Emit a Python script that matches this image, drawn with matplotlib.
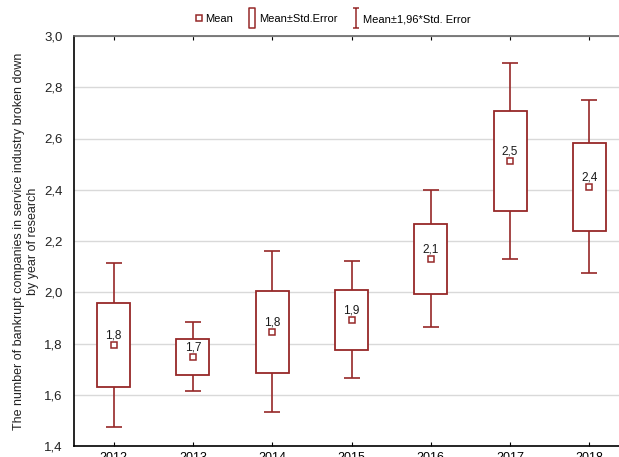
import matplotlib.pyplot as plt
from matplotlib.lines import Line2D
from matplotlib.path import Path

plt.rcParams['font.family'] = ['Liberation Sans', 'DejaVu Sans']

years = ['2012', '2013', '2014', '2015', '2016', '2017', '2018']
means = [1.794, 1.748, 1.846, 1.893, 2.131, 2.512, 2.412]
std_err = [0.164, 0.069, 0.160, 0.117, 0.137, 0.195, 0.172]

red = '#962828'

fig = plt.figure(figsize=(6.19, 4.57), dpi=100)
ax = fig.add_axes([74 / 619, 11 / 457, 555 / 619, 410 / 457])

x = list(range(1, len(years) + 1))
lo = [m - s for m, s in zip(means, std_err)]
ci = [1.96 * s for s in std_err]

ax.errorbar(x, means, yerr=ci, fmt='none', ecolor=red, elinewidth=1.2,
            capsize=5.8, capthick=1.2, zorder=2)
ax.bar(x, [2 * s for s in std_err], bottom=lo, width=0.415, facecolor='white',
       edgecolor=red, linewidth=1.3, zorder=3)
ax.plot(x, means, 's', ms=4.2, mfc='white', mec=red, mew=1.1, zorder=4)
for xi, m in zip(x, means):
    ax.annotate(f'{m:.1f}'.replace('.', ','), (xi, m), xytext=(0, 2.5),
                textcoords='offset points', ha='center', va='bottom',
                fontsize=8.5, color='#1a1a1a', zorder=5)

ax.set_xlim(0.5, 7.5)
ax.set_ylim(1.4, 3.0)
ax.set_xticks(x)
ax.set_xticklabels(years, fontsize=9)
yt = [1.4, 1.6, 1.8, 2.0, 2.2, 2.4, 2.6, 2.8, 3.0]
ax.set_yticks(yt)
ax.set_yticklabels([f'{v:.1f}'.replace('.', ',') for v in yt], fontsize=9.5,
                   color='#222222')
ax.tick_params(axis='x', direction='in', length=3, top=True, pad=4)
ax.tick_params(axis='y', length=0, pad=8)
ax.grid(axis='y', color='#d9d9d9', linewidth=1)
ax.set_axisbelow(True)
for s in ['left', 'bottom']:
    ax.spines[s].set_linewidth(1.2)
ax.spines['top'].set_color('#666666')
ax.spines['top'].set_linewidth(1.2)
ax.spines['right'].set_visible(False)

ax.set_ylabel('The number of bankrupt companies in service industry broken down\nby year of research',
              fontsize=9, labelpad=4, color='#222222')

# legend
box_m = Path([(-0.32, -1), (0.32, -1), (0.32, 1), (-0.32, 1), (-0.32, -1)],
             [Path.MOVETO, Path.LINETO, Path.LINETO, Path.LINETO, Path.CLOSEPOLY])
ibar_m = Path([(-0.32, 1), (0.32, 1), (0, 1), (0, -1), (-0.32, -1), (0.32, -1)],
              [Path.MOVETO, Path.LINETO, Path.MOVETO, Path.LINETO, Path.MOVETO, Path.LINETO])
handles = [
    Line2D([], [], ls='none', marker='s', ms=5, mfc='white', mec=red, mew=1.1),
    Line2D([], [], ls='none', marker=box_m, ms=15, mfc='none', mec=red, mew=1.1),
    Line2D([], [], ls='none', marker=ibar_m, ms=15, mfc='none', mec=red, mew=1.1),
]
fig.legend(handles, ['Mean', 'Mean±Std.Error', 'Mean±1,96*Std. Error'],
           loc='center', bbox_to_anchor=(332 / 619, 1 - 19 / 457), ncol=3,
           frameon=False, fontsize=8, handlelength=1.0, handletextpad=0.1,
           columnspacing=1.2)

fig.savefig('out.png', dpi=100)
